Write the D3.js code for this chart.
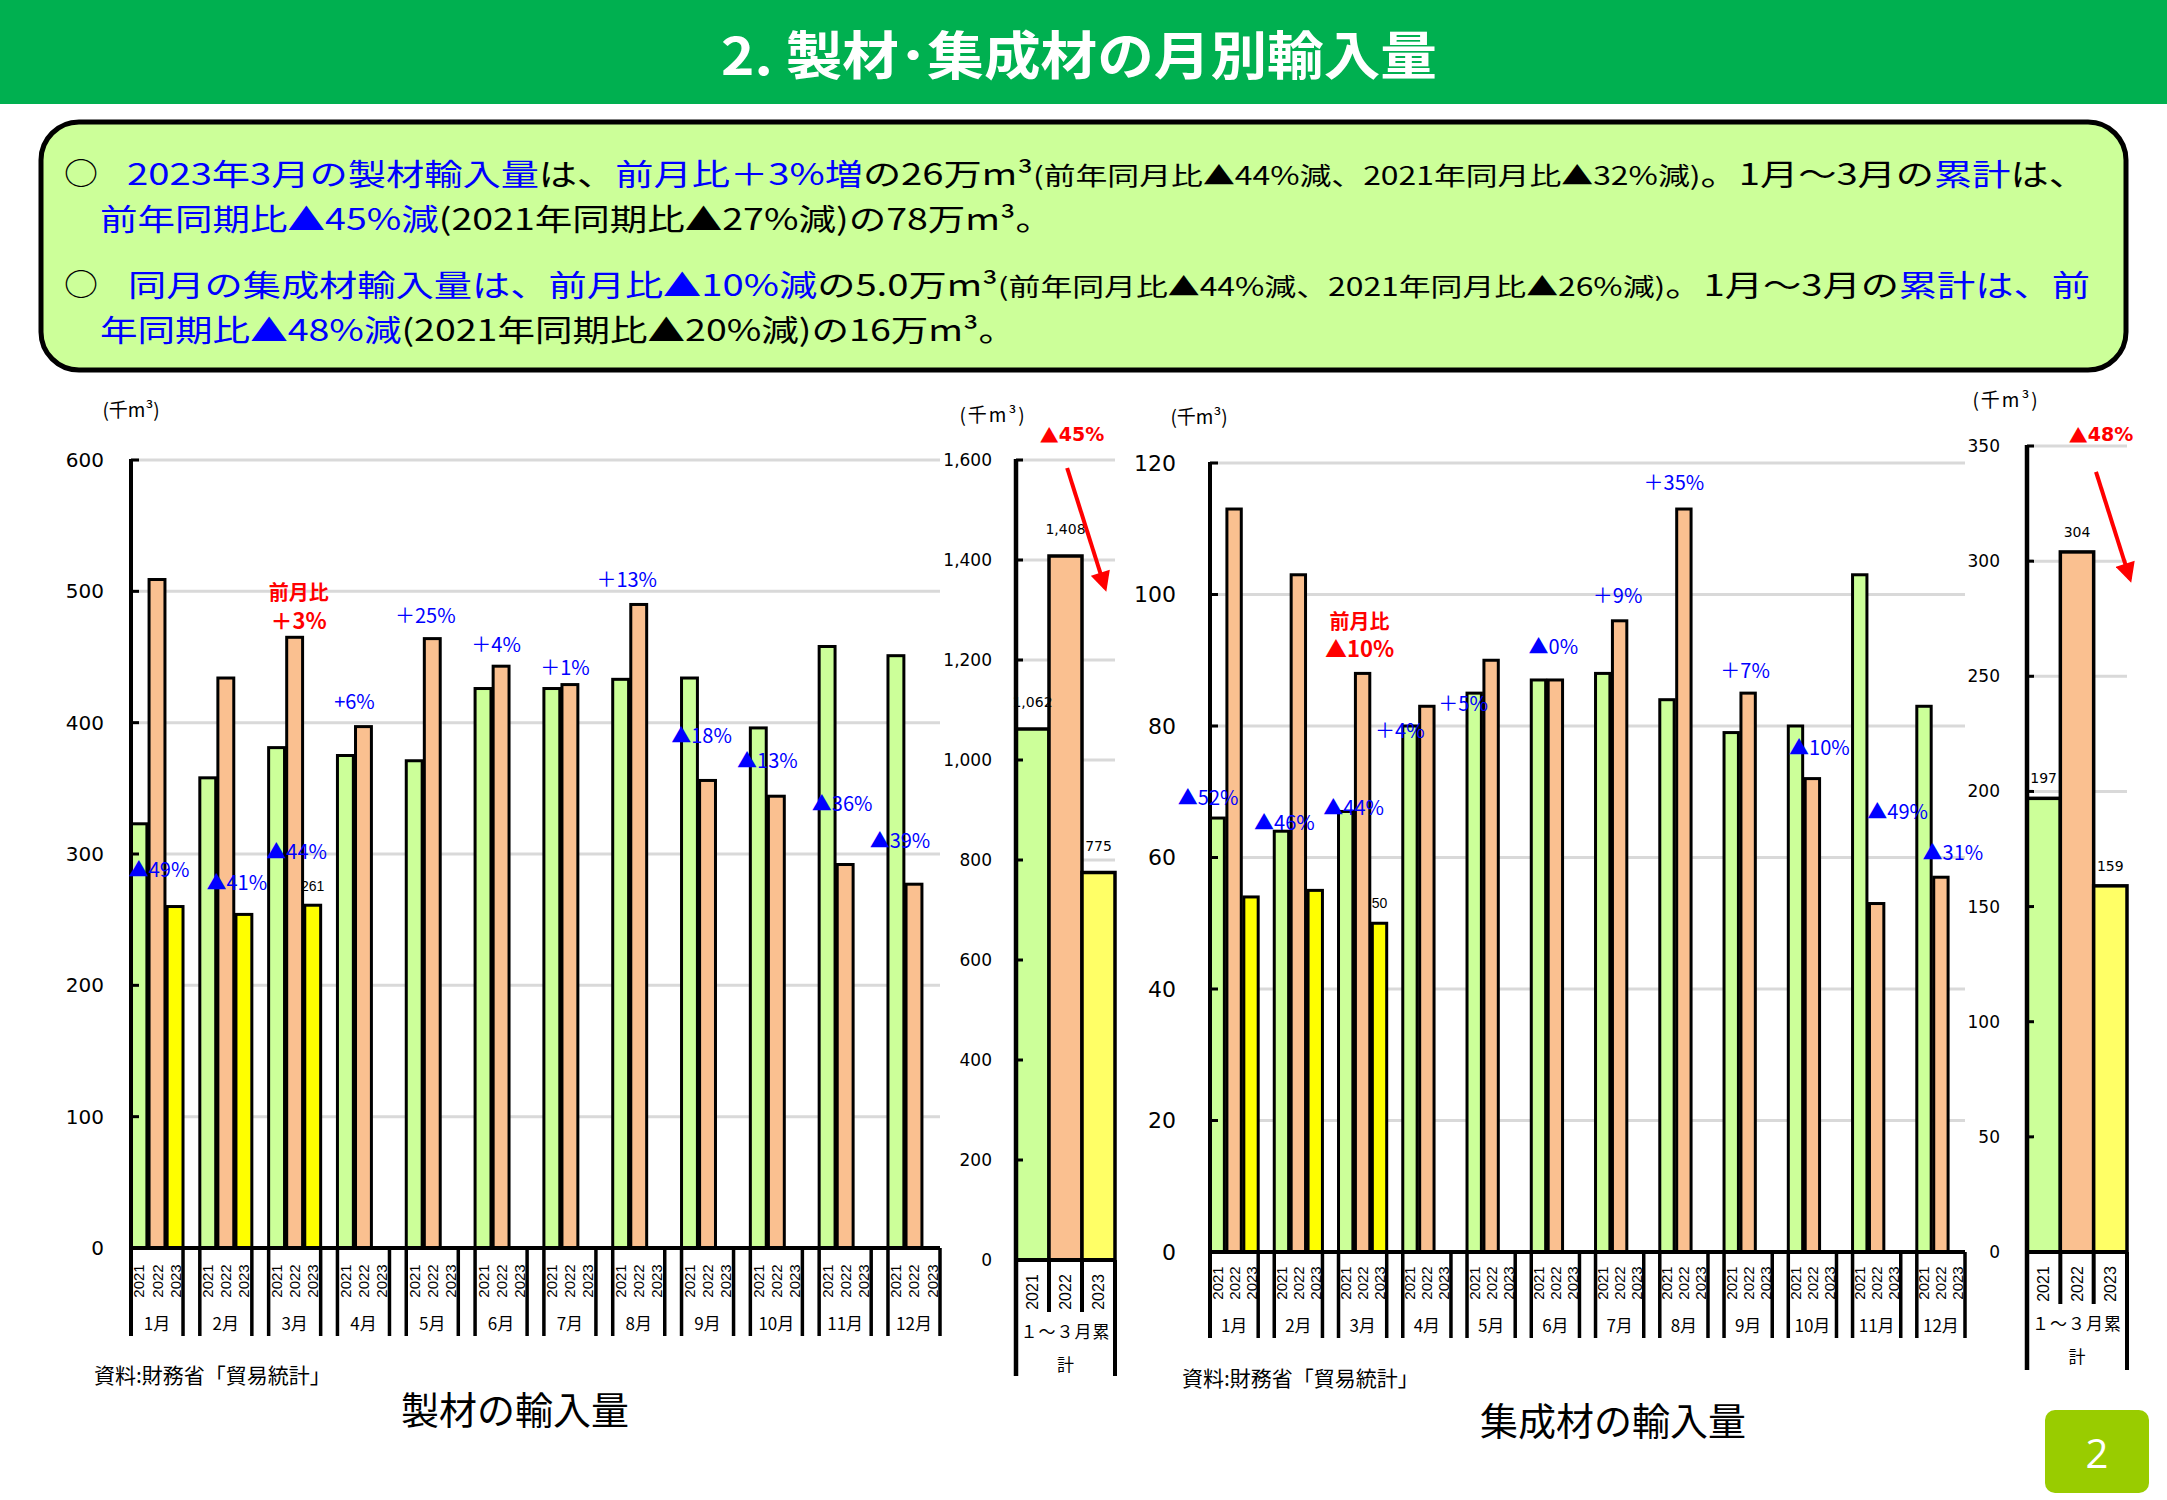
<!DOCTYPE html>
<html><head><meta charset="utf-8">
<script src="https://cdn.jsdelivr.net/npm/d3@7"></script>
<style>body{margin:0;background:#fff}svg{display:block}</style>
</head><body>
<script>
// ---------- data ----------
const months = ["1月","2月","3月","4月","5月","6月","7月","8月","9月","10月","11月","12月"];
const years = ["2021","2022","2023"];

const lumber2021 = [323,358,381,375,371,426,426,433,434,396,458,451];
const lumber2022 = [509,434,465,397,464,443,429,490,356,344,292,277];
const lumber2023 = [260,254,261];
const lumberCum = [1062,1408,775];
const lumberTicks = [0,100,200,300,400,500,600];
const lumberCumTicks = [0,200,400,600,800,1000,1200,1400,1600];
const lumberNotes = ["▲49%","▲41%","▲44%","+6%","＋25%","＋4%","＋1%","＋13%","▲18%","▲13%","▲36%","▲39%"];
const lumberNoteAt = [289,279,303,417,482,460,443,510,391,372,339,311];
const lumberNoteDx = [2,11,2,-9,-7,-5,-5,-12,-6,-9,-3,-14];

const glulam2021 = [66,64,67,80,85,87,88,84,79,80,103,83];
const glulam2022 = [113,103,88,83,90,87,96,113,85,72,53,57];
const glulam2023 = [54,55,50];
const glulamCum = [197,304,159];
const glulamTicks = [0,20,40,60,80,100,120];
const glulamCumTicks = [0,50,100,150,200,250,300,350];
const glulamNotes = ["▲52%","▲46%","▲44%","＋4%","＋5%","▲0%","＋9%","＋35%","＋7%","▲10%","▲49%","▲31%"];
const glulamNoteAt = [69.3,65.5,67.8,79.4,83.6,92.2,100,117.2,88.6,76.9,67.2,60.9];
const glulamNoteDx = [-26,-14,-9,-27,-28,-2,-2,-10,-3,7,21,12];

const titleText = "2. 製材･集成材の月別輸入量";
const summaryLines = [
  [["2023年3月の製材輸入量","b"],["は、","k"],["前月比＋3%増","b"],["の26万m³","k"],["(前年同月比▲44%減、2021年同月比▲32%減)","k","s"],["。1月～3月の","k"],["累計","b"],["は、","k"]],
  [["前年同期比▲45%減","b"],["(2021年同期比▲27%減)","k"],["の78万m³。","k"]],
  [["同月の集成材輸入量は、前月比▲10%減","b"],["の5.0万m³","k"],["(前年同月比▲44%減、2021年同月比▲26%減)","k","s"],["。1月～3月の","k"],["累計は、前","b"]],
  [["年同期比▲48%減","b"],["(2021年同期比▲20%減)の16万m³。","k"]]
];

// ---------- styles ----------
const JP = "'Noto Sans CJK JP','Noto Sans',sans-serif";
const NUM = "'DejaVu Sans',sans-serif";
const LAT = "'Liberation Sans',Arial,sans-serif";
const BLUE = "#0000FF", RED = "#FF0000";
const barFill = {"2021":"#CCFF99","2022":"#FAC090","2023":"#FFFF00"};
const cumFill = {"2021":"#CCFF99","2022":"#FAC090","2023":"#FFFF66"};

const svg = d3.select("body").append("svg").attr("width",2167).attr("height",1500);
const defs = svg.append("defs");
defs.append("marker").attr("id","ah").attr("viewBox","0 0 10 10").attr("refX",8).attr("refY",5)
  .attr("markerUnits","userSpaceOnUse").attr("markerWidth",22).attr("markerHeight",20).attr("orient","auto")
  .append("path").attr("d","M0,0 L10,5 L0,10 z").attr("fill",RED);

// ---------- header ----------
svg.append("rect").attr("x",0).attr("y",0).attr("width",2167).attr("height",104).attr("fill","#00B050");
svg.append("text").attr("x",1079).attr("y",75).attr("text-anchor","middle")
  .attr("font-family",JP).attr("font-weight",700).attr("font-size",52).attr("fill","#fff")
  .attr("textLength",716).attr("lengthAdjust","spacingAndGlyphs").text(titleText);

// ---------- summary box ----------
svg.append("rect").attr("x",41).attr("y",122).attr("width",2085).attr("height",248).attr("rx",38)
  .attr("fill","#CCFF99").attr("stroke","#000").attr("stroke-width",5);
const lineLayout = [{x:127,y:185,len:1960,bullet:true},{x:100,y:230,len:953},{x:128,y:296,len:1962,bullet:true},{x:100,y:341,len:916}];
summaryLines.forEach((segs,i)=>{
  const L = lineLayout[i];
  if (L.bullet) svg.append("text").attr("x",64).attr("y",L.y-1).attr("font-family",JP).attr("font-size",30)
    .attr("textLength",34).attr("lengthAdjust","spacingAndGlyphs").attr("fill","#000").text("○");
  const nodes = segs.map(s=>svg.append("text").attr("y",L.y).attr("font-family",JP)
    .attr("fill",s[1]==="b"?BLUE:"#000").attr("font-size",s[2]==="s"?25:30).text(s[0]));
  const widths = nodes.map(n=>n.node().getComputedTextLength());
  const sc = L.len / d3.sum(widths);
  let xx = L.x;
  nodes.forEach((n,k)=>{
    n.attr("x",xx).attr("textLength",widths[k]*sc).attr("lengthAdjust","spacingAndGlyphs");
    xx += widths[k]*sc;
  });
});

// ---------- monthly chart ----------
function monthly(cfg){
  const g = svg.append("g");
  const x0 = d3.scaleBand().domain(months).range(cfg.xr).paddingInner(cfg.pad).paddingOuter(0);
  const x1 = d3.scaleBand().domain(years).range([0,x0.bandwidth()]).paddingInner(cfg.inner);
  const y = d3.scaleLinear().domain([0,cfg.ticks[cfg.ticks.length-1]]).range(cfg.yr);
  const y0 = y(0), bw = x0.bandwidth();
  g.selectAll(null).data(cfg.ticks.filter(t=>t>0)).join("line")
    .attr("x1",cfg.xr[0]).attr("x2",cfg.xr[1]).attr("y1",d=>y(d)).attr("y2",d=>y(d))
    .attr("stroke","#D9D9D9").attr("stroke-width",3);
  [[ "2021",cfg.d21],["2022",cfg.d22],["2023",cfg.d23]].forEach(([yr,vals])=>{
    g.selectAll(null).data(vals).join("rect")
      .attr("x",(d,i)=>x0(months[i])+x1(yr)).attr("y",d=>y(d))
      .attr("width",x1.bandwidth()).attr("height",d=>y0-y(d))
      .attr("fill",barFill[yr]).attr("stroke","#000").attr("stroke-width",3);
  });
  const ax = g.append("g").attr("transform",`translate(${cfg.xr[0]},0)`)
    .call(d3.axisLeft(y).tickValues(cfg.ticks).tickSize(0).tickPadding(cfg.labPad).tickFormat(d3.format(",")));
  ax.select(".domain").remove();
  ax.selectAll("text").attr("font-family",NUM).attr("font-size",cfg.fs).attr("fill","#000");
  g.selectAll(null).data(cfg.ticks).join("line")
    .attr("x1",cfg.xr[0]).attr("x2",cfg.xr[0]+8).attr("y1",d=>y(d)).attr("y2",d=>y(d))
    .attr("stroke","#000").attr("stroke-width",3);
  g.append("line").attr("x1",cfg.xr[0]).attr("x2",cfg.xr[0]).attr("y1",y(cfg.ticks[cfg.ticks.length-1])-1).attr("y2",y0+cfg.depth)
    .attr("stroke","#000").attr("stroke-width",4);
  g.append("line").attr("x1",cfg.xr[0]).attr("x2",cfg.xr[1]).attr("y1",y0).attr("y2",y0)
    .attr("stroke","#000").attr("stroke-width",4);
  months.forEach(m=>{
    [x0(m), x0(m)+bw].forEach(xx=>{
      g.append("line").attr("x1",xx).attr("x2",xx).attr("y1",y0).attr("y2",y0+cfg.depth)
        .attr("stroke","#000").attr("stroke-width",3.5);
    });
    years.forEach(yr=>{
      const cx = x0(m)+x1(yr)+x1.bandwidth()/2, cy = y0+cfg.yearY;
      g.append("text").attr("transform",`translate(${cx},${cy}) rotate(-90)`)
        .attr("text-anchor","middle").attr("dominant-baseline","central")
        .attr("font-family",LAT).attr("font-size",15).attr("fill","#000").text(yr);
    });
    g.append("text").attr("x",x0(m)+bw/2).attr("y",y0+cfg.monthY).attr("text-anchor","middle")
      .attr("dominant-baseline","central").attr("font-family",JP).attr("font-size",17).attr("fill","#000").text(m);
  });
  cfg.notes.forEach((t,i)=>{
    g.append("text").attr("x",x0(months[i])+bw/2+cfg.noteDx[i]).attr("y",y(cfg.noteAt[i]))
      .attr("text-anchor","middle").attr("dominant-baseline","central")
      .attr("font-family",JP).attr("font-size",20).attr("fill",BLUE).text(t);
  });
  const rm = months[cfg.red.m];
  cfg.red.lines.forEach((t,k)=>{
    g.append("text").attr("x",x0(rm)+bw/2+cfg.red.dx).attr("y",y(cfg.red.at[k]))
      .attr("text-anchor","middle").attr("dominant-baseline","central")
      .attr("font-family",JP).attr("font-weight",700).attr("font-size",k?22:20).attr("fill",RED).text(t);
  });
  const li = cfg.d23.length-1;
  g.append("text").attr("x",x0(months[li])+x1("2023")+x1.bandwidth()/2).attr("y",y(cfg.d23[li])-cfg.valOff)
    .attr("text-anchor","middle").attr("font-family",LAT).attr("font-size",14).attr("fill","#000").text(cfg.d23[li]);
  g.append("text").attr("x",cfg.unit[0]).attr("y",cfg.unit[1]).attr("text-anchor","middle").attr("dominant-baseline","central")
    .attr("font-family",JP).attr("font-size",19).attr("fill","#000").text("(千m³)");
}

// ---------- cumulative chart ----------
function cumulative(cfg){
  const g = svg.append("g");
  const max = cfg.ticks[cfg.ticks.length-1];
  const x = d3.scaleBand().domain(years).range(cfg.xr).padding(0);
  const y = d3.scaleLinear().domain([0,max]).range(cfg.yr);
  const y0 = y(0), bw = x.bandwidth();
  g.selectAll(null).data(cfg.ticks.filter(t=>t>0)).join("line")
    .attr("x1",cfg.xr[0]).attr("x2",cfg.xr[1]).attr("y1",d=>y(d)).attr("y2",d=>y(d))
    .attr("stroke","#D9D9D9").attr("stroke-width",3);
  g.selectAll(null).data(cfg.vals).join("rect")
    .attr("x",(d,i)=>x(years[i])).attr("y",d=>y(d)).attr("width",bw).attr("height",d=>y0-y(d))
    .attr("fill",(d,i)=>cumFill[years[i]]).attr("stroke","#000").attr("stroke-width",3.5);
  g.selectAll(null).data(cfg.vals).join("text")
    .attr("x",(d,i)=>x(years[i])+bw/2).attr("y",d=>y(d)-cfg.valOff).attr("text-anchor","middle")
    .attr("font-family",NUM).attr("font-size",14).attr("fill","#000").text(d=>d3.format(",")(d));
  const ax = g.append("g").attr("transform",`translate(${cfg.xr[0]},0)`)
    .call(d3.axisLeft(y).tickValues(cfg.ticks).tickSize(0).tickPadding(cfg.labPad).tickFormat(d3.format(",")));
  ax.select(".domain").remove();
  ax.selectAll("text").attr("font-family",NUM).attr("font-size",cfg.fs).attr("fill","#000");
  g.selectAll(null).data(cfg.ticks).join("line")
    .attr("x1",cfg.xr[0]).attr("x2",cfg.xr[0]+7).attr("y1",d=>y(d)).attr("y2",d=>y(d))
    .attr("stroke","#000").attr("stroke-width",3);
  g.append("line").attr("x1",cfg.xr[0]).attr("x2",cfg.xr[0]).attr("y1",y(max)-1).attr("y2",y0+cfg.depth)
    .attr("stroke","#000").attr("stroke-width",4.5);
  g.append("line").attr("x1",cfg.xr[1]).attr("x2",cfg.xr[1]).attr("y1",y0).attr("y2",y0+cfg.depth)
    .attr("stroke","#000").attr("stroke-width",4);
  g.append("line").attr("x1",cfg.xr[0]).attr("x2",cfg.xr[1]).attr("y1",y0).attr("y2",y0)
    .attr("stroke","#000").attr("stroke-width",4);
  years.slice(1).forEach(yr=>{
    g.append("line").attr("x1",x(yr)).attr("x2",x(yr)).attr("y1",y0).attr("y2",y0+52)
      .attr("stroke","#000").attr("stroke-width",4);
  });
  years.forEach(yr=>{
    g.append("text").attr("transform",`translate(${x(yr)+bw/2},${y0+32}) rotate(-90)`)
      .attr("text-anchor","middle").attr("dominant-baseline","central")
      .attr("font-family",LAT).attr("font-size",16).attr("fill","#000").text(yr);
  });
  const cx = (cfg.xr[0]+cfg.xr[1])/2;
  g.append("text").attr("x",cx).attr("y",y0+cfg.capY).attr("text-anchor","middle").attr("dominant-baseline","central")
    .attr("font-family",JP).attr("font-size",17).attr("letter-spacing",1).attr("fill","#000").text("１～３月累");
  g.append("text").attr("x",cx).attr("y",y0+cfg.capY+33).attr("text-anchor","middle").attr("dominant-baseline","central")
    .attr("font-family",JP).attr("font-size",17).attr("fill","#000").text("計");
  const a = cfg.arrow;
  const t = g.append("text").attr("x",cfg.xr[0]+bw*a.lx).attr("y",cfg.pctY).attr("text-anchor","middle")
    .attr("dominant-baseline","central").attr("font-family",NUM).attr("font-weight",700).attr("font-size",19).attr("fill",RED);
  t.append("tspan").attr("font-family",JP).text("▲");
  t.append("tspan").text(cfg.pct);
  g.append("line").attr("x1",cfg.xr[0]+bw*a.x1).attr("y1",y(max*a.v1))
    .attr("x2",cfg.xr[0]+bw*a.x2).attr("y2",y(max*a.v2))
    .attr("stroke",RED).attr("stroke-width",4).attr("marker-end","url(#ah)");
  g.append("text").attr("x",cfg.unit[0]).attr("y",cfg.unit[1]).attr("text-anchor","middle").attr("dominant-baseline","central")
    .attr("font-family",JP).attr("font-size",19).attr("letter-spacing",2).attr("fill","#000").text("(千m³)");
}

monthly({xr:[131,940],pad:0.244,inner:0.12,yr:[1248,460],ticks:lumberTicks,fs:20,labPad:27,depth:88,yearY:33,monthY:74,
  d21:lumber2021,d22:lumber2022,d23:lumber2023,notes:lumberNotes,noteAt:lumberNoteAt,noteDx:lumberNoteDx,
  red:{m:2,lines:["前月比","＋3%"],at:[500,479],dx:4},valOff:14,unit:[131,408]});
monthly({xr:[1210,1965],pad:0.25,inner:0.15,yr:[1252,463],ticks:glulamTicks,fs:22,labPad:34,depth:86,yearY:31,monthY:72,
  d21:glulam2021,d22:glulam2022,d23:glulam2023,notes:glulamNotes,noteAt:glulamNoteAt,noteDx:glulamNoteDx,
  red:{m:2,lines:["前月比","▲10%"],at:[96,92],dx:-3},valOff:15,unit:[1199,415]});

cumulative({xr:[1016,1115],yr:[1260,460],ticks:lumberCumTicks,vals:lumberCum,fs:17,labPad:24,depth:116,valOff:22,capY:70,
  pct:"45%",pctY:434,arrow:{lx:1.7,x1:1.55,v1:0.99,x2:2.7,v2:0.84},unit:[993,413]});
cumulative({xr:[2027,2127],yr:[1252,446],ticks:glulamCumTicks,vals:glulamCum,fs:17,labPad:27,depth:118,valOff:15,capY:70,
  pct:"48%",pctY:434,arrow:{lx:2.22,x1:2.07,v1:0.968,x2:3.09,v2:0.835},unit:[2006,398]});

// ---------- footers ----------
svg.append("text").attr("x",94).attr("y",1383).attr("font-family",JP).attr("font-size",21).attr("fill","#000").text("資料:財務省「貿易統計」");
svg.append("text").attr("x",1182).attr("y",1386).attr("font-family",JP).attr("font-size",21).attr("fill","#000").text("資料:財務省「貿易統計」");
svg.append("text").attr("x",515).attr("y",1424).attr("text-anchor","middle").attr("font-family",JP).attr("font-size",38).attr("fill","#000").text("製材の輸入量");
svg.append("text").attr("x",1613).attr("y",1435).attr("text-anchor","middle").attr("font-family",JP).attr("font-size",38).attr("fill","#000").text("集成材の輸入量");
svg.append("rect").attr("x",2045).attr("y",1410).attr("width",104).attr("height",83).attr("rx",10).attr("fill","#99CC00");
svg.append("text").attr("x",2097).attr("y",1452).attr("text-anchor","middle").attr("dominant-baseline","central")
  .attr("font-family","'Open Sans',sans-serif").attr("font-size",40).attr("fill","#fff").text("2");
</script>
</body></html>
